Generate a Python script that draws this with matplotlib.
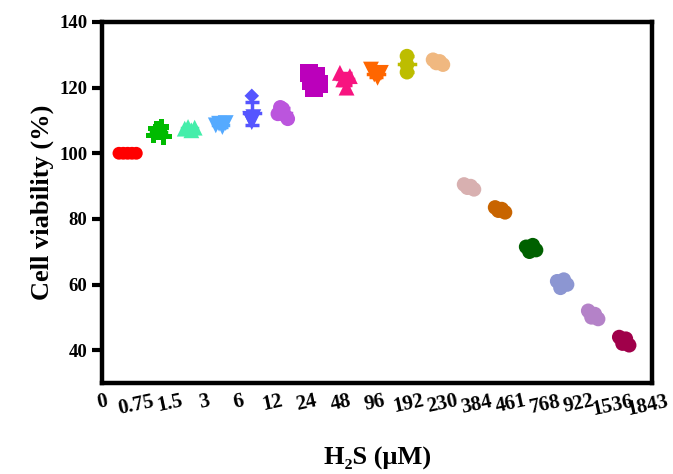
import matplotlib
matplotlib.use("Agg")
import matplotlib.pyplot as plt
import numpy as np

plt.rcParams['font.family'] = ['Liberation Serif', 'DejaVu Serif']
plt.rcParams['font.weight'] = 'bold'

tick_labels = ["0", "0.75", "1.5", "3", "6", "12", "24", "48", "96", "192",
               "230", "384", "461", "768", "922", "1536", "1843"]

group_values = [
    [100, 100, 100, 100, 100],
    [105.5, 107.5, 106.5, 108.0, 105.0],
    [107.5, 108.0, 107.0, 107.8],
    [108.5, 109.0, 108.0, 109.2],
    [117.5, 110.5, 111.0, 109.5],
    [112.0, 114.0, 113.5, 111.5, 110.5],
    [124.5, 122.0, 120.0, 123.5, 121.0],
    [124.5, 122.5, 120.0, 123.5],
    [125.5, 124.0, 123.0, 124.5],
    [129.6, 127.0, 124.7],
    [128.5, 127.5, 128.0, 127.0],
    [90.5, 89.5, 90.0, 89.0],
    [83.5, 82.5, 83.0, 82.0],
    [71.5, 70.0, 72.0, 70.5],
    [61.0, 59.0, 61.5, 60.0],
    [52.0, 50.0, 51.0, 49.5],
    [44.0, 42.0, 43.5, 41.5],
]

colors = ["#FF0000", "#00BB00", "#44EEAA", "#55AAFF", "#5555FF", "#BB55DD",
          "#BB00BB", "#F71480", "#FF6600", "#BDBD00", "#F0B880", "#D8B0B0",
          "#C86400", "#006000", "#8C96D2", "#B482C8", "#A0004A"]
markers = ["o", "P", "^", "v", "v", "o", "s", "^", "v", "o", "o", "o",
           "o", "o", "o", "o", "o"]

fig = plt.figure(figsize=(6.73, 4.74), dpi=100)
ax = fig.add_axes([0.1516, 0.192, 0.8174, 0.7616])

for i, vals in enumerate(group_values):
    vals = np.array(vals, dtype=float)
    n = len(vals)
    spread = 0.28 if i == 0 else 0.16
    offs = np.linspace(-spread, spread, n)
    mk = [markers[i]] * n
    if i == 4:
        offs = np.array([0.0, -0.05, 0.05, 0.0])
        mk = ["D", "v", "v", "v"]
    if i == 9:
        offs = np.zeros(n)
    if markers[i] == "s":
        size = 170
    elif markers[i] in ("^", "v", "P"):
        size = 130
    else:
        size = 110
    if i == 0:
        size = 85
    for xo, v, m_ in zip(offs, vals, mk):
        ax.scatter(i + xo, v, s=(55 if m_ == "D" else size), marker=m_,
                   color=colors[i], edgecolors='none', zorder=3)
    m = vals.mean()
    sd = vals.std(ddof=1)
    ax.errorbar(i, m, yerr=sd, color=colors[i], capsize=5, capthick=2.5,
                elinewidth=2.5, zorder=2)
    ax.plot([i - 0.25, i + 0.25], [m, m], color=colors[i], lw=2.5, zorder=2)

ax.set_xlim(-0.57, 16.9)
ax.set_ylim(30, 140)
ax.set_yticks([40, 60, 80, 100, 120, 140])
ax.tick_params(axis='y', labelsize=13.5, width=3, length=7, direction='out')
for lbl in ax.get_yticklabels():
    lbl.set_fontweight('bold')

label_pos = -0.825 + 1.098 * np.arange(len(tick_labels))
ax.set_xticks(label_pos)
ax.set_xticklabels(tick_labels, fontsize=15, fontweight='bold', rotation=12,
                   ha='center', rotation_mode='default')
ax.tick_params(axis='x', length=0, pad=6)

for sp in ax.spines.values():
    sp.set_linewidth(3.2)
    sp.set_color('black')

ax.set_ylabel("Cell viability (%)", fontsize=19, fontweight='bold', labelpad=4)
ax.set_xlabel("H\u2082S (\u03bcM)", fontsize=19, fontweight='bold', labelpad=20)

fig.savefig("out.png", dpi=100)
